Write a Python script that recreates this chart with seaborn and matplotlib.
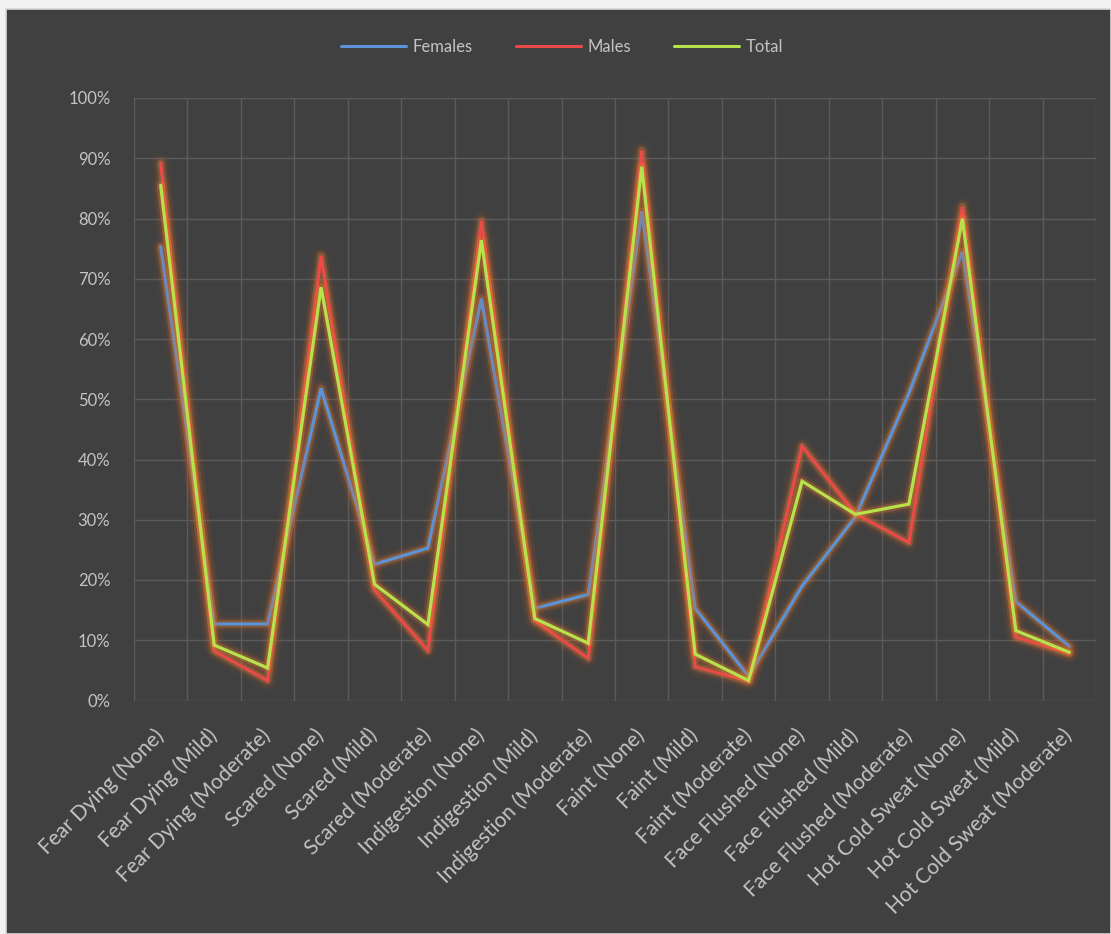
import matplotlib
matplotlib.use("Agg")
import matplotlib.pyplot as plt
import matplotlib.patheffects as pe
from matplotlib.patches import Rectangle
from matplotlib.ticker import FixedLocator, FuncFormatter
from matplotlib.transforms import ScaledTranslation
import numpy as np
import pandas as pd
import seaborn as sns

categories = [
    "Fear Dying (None)", "Fear Dying (Mild)", "Fear Dying (Moderate)",
    "Scared (None)", "Scared (Mild)", "Scared (Moderate)",
    "Indigestion (None)", "Indigestion (Mild)", "Indigestion (Moderate)",
    "Faint (None)", "Faint (Mild)", "Faint (Moderate)",
    "Face Flushed (None)", "Face Flushed (Mild)", "Face Flushed (Moderate)",
    "Hot Cold Sweat (None)", "Hot Cold Sweat (Mild)", "Hot Cold Sweat (Moderate)",
]
females = [75.3, 12.7, 12.7, 51.8, 22.6, 25.3, 66.7, 15.3, 17.6, 81.2, 15.3, 4.0,
           19.0, 30.5, 51.0, 74.5, 16.4, 9.0]
males = [89.2, 8.2, 3.3, 73.8, 18.3, 8.3, 79.6, 13.2, 7.0, 91.3, 5.6, 3.2,
         42.2, 31.0, 26.2, 82.0, 10.5, 7.8]
total = [85.5, 9.2, 5.4, 68.6, 19.3, 12.6, 76.4, 13.6, 9.5, 88.6, 7.7, 3.3,
         36.4, 30.9, 32.6, 80.0, 11.6, 8.0]
series_names = ["Females", "Males", "Total"]
y_ticks = [0, 10, 20, 30, 40, 50, 60, 70, 80, 90, 100]

colors = {"Females": "#5b93d6", "Males": "#ea4a4a", "Total": "#b8e24c"}
bg = "#404040"
grid_c = "#5b5b5b"
text_c = "#c4c4c4"

df = pd.concat([
    pd.DataFrame({"pos": np.arange(len(categories)), "value": vals, "series": name})
    for name, vals in zip(series_names, [females, males, total])
], ignore_index=True)

sns.set_theme(style="dark")
plt.rcParams["font.family"] = ["Lato", "DejaVu Sans"]

fig = plt.figure(figsize=(11.11, 9.34), dpi=100, facecolor="#f2f2f2")
# dark chart area with a thin light frame on the top-left
fig.patches.append(Rectangle((6 / 1111, 0), 1 - 6 / 1111, 1 - 9 / 934,
                             transform=fig.transFigure, facecolor=bg,
                             edgecolor="#d8d8d8", linewidth=1.2, zorder=-5))

ax = fig.add_axes([134 / 1111, 1 - 700.5 / 934, (1096 - 134) / 1111, (700.5 - 98) / 934])
ax.set_facecolor(bg)

sns.lineplot(data=df, x="pos", y="value", hue="series", hue_order=series_names,
             palette=colors, linewidth=2.3, sort=False, ax=ax, legend=True)

handles, labels = ax.get_legend_handles_labels()
ax.get_legend().remove()

# soft orange glow under each series
glow = [
    pe.Stroke(linewidth=14, foreground="#c85a28", alpha=0.06, joinstyle="round"),
    pe.Stroke(linewidth=9, foreground="#d8692c", alpha=0.12, joinstyle="round"),
    pe.Stroke(linewidth=5.5, foreground="#e88a34", alpha=0.28, joinstyle="round"),
    pe.Normal(),
]
for line in ax.lines:
    if line in handles:
        continue
    line.set_path_effects(glow)
    line.set_solid_joinstyle("miter")

for h in handles:
    h.set_path_effects([])
    h.set_linewidth(2.2)
fig.legend(handles, labels, loc="center", bbox_to_anchor=(562 / 1111, 1 - 47 / 934),
           ncol=3, frameon=False, fontsize=12, labelcolor=text_c,
           handlelength=3.9, handletextpad=0.4, columnspacing=2.6)

ax.set_xlim(-0.5, len(categories) - 0.5)
ax.set_ylim(0, 100)
ax.set_xticks(np.arange(len(categories)))
ax.set_xticklabels(categories, rotation=45, ha="right", va="center",
                   rotation_mode="anchor", fontsize=15, color=text_c)
shift = ScaledTranslation(8 / 100, 0, fig.dpi_scale_trans)
for lab in ax.get_xticklabels():
    lab.set_transform(lab.get_transform() + shift)
ax.xaxis.set_minor_locator(FixedLocator(np.arange(-0.5, len(categories), 1.0)))
ax.set_yticks(y_ticks)
ax.yaxis.set_major_formatter(FuncFormatter(lambda v, _: f"{v:.0f}%"))
ax.tick_params(axis="y", labelsize=12, labelcolor=text_c, length=0, pad=17)
ax.tick_params(axis="x", which="both", length=0, pad=23)
ax.grid(False)
ax.grid(True, axis="y", which="major", color=grid_c, linewidth=1)
ax.grid(True, axis="x", which="minor", color=grid_c, linewidth=1)
ax.set_axisbelow(True)
for s in ax.spines.values():
    s.set_visible(False)
ax.set_xlabel("")
ax.set_ylabel("")

fig.savefig("out.png", dpi=100, facecolor=fig.get_facecolor())
